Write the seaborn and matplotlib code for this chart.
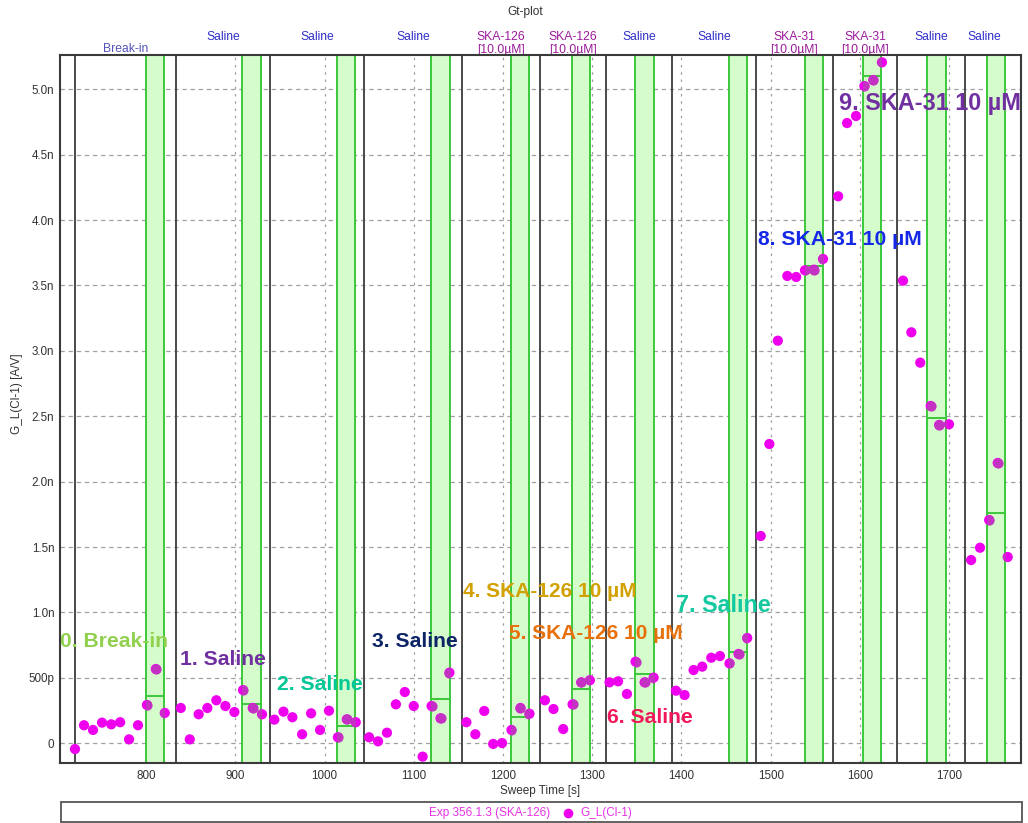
import matplotlib
matplotlib.use("Agg")
import matplotlib.pyplot as plt
import numpy as np
import pandas as pd
import seaborn as sns
from matplotlib.ticker import FuncFormatter, MultipleLocator
from matplotlib.lines import Line2D
from matplotlib.patches import Rectangle

# ---- sweep data: leak conductance per sweep (nS) ----
sweep_time = [
    720.4, 730.5, 740.6, 750.7, 761, 771, 781, 791, 801, 811, 821,
    839, 849, 859, 868.7, 878.8, 888.9, 899, 908.7, 919.6, 930,
    943.8, 954, 964, 974.9, 985, 995, 1005, 1015, 1025, 1035,
    1050, 1060, 1070, 1080, 1090, 1100, 1110, 1120, 1130, 1140,
    1159, 1169, 1179, 1189, 1199, 1209.5, 1219.6, 1229.7,
    1247, 1256.6, 1267.5, 1278, 1287.7, 1297.4,
    1319.4, 1329, 1338.9, 1348.6, 1358.7, 1368.8,
    1393.8, 1403.5, 1413.6, 1423.3, 1433.4, 1443.1, 1453.8, 1464, 1473.7,
    1488.8, 1498.5, 1508, 1518.6, 1528.6, 1538.4, 1548.5, 1558.6,
    1575.6, 1585.6, 1595.6, 1605, 1615, 1624.7,
    1648.3, 1657.6, 1667.6, 1679.3, 1688.8, 1699.8,
    1724.6, 1734.6, 1744.8, 1754.4, 1765.6,
]
conductance_nS = [
    -0.044, 0.138, 0.102, 0.158, 0.145, 0.161, 0.030, 0.138, 0.293, 0.568, 0.232,
    0.270, 0.030, 0.222, 0.270, 0.329, 0.285, 0.239, 0.407, 0.270, 0.222,
    0.181, 0.242, 0.199, 0.069, 0.229, 0.102, 0.249, 0.046, 0.183, 0.161,
    0.046, 0.015, 0.081, 0.298, 0.392, 0.285, -0.102, 0.285, 0.191, 0.540,
    0.161, 0.069, 0.247, -0.005, 0.002, 0.102, 0.270, 0.226,
    0.329, 0.262, 0.109, 0.298, 0.466, 0.482,
    0.466, 0.474, 0.377, 0.624, 0.466, 0.502,
    0.402, 0.369, 0.560, 0.586, 0.654, 0.667, 0.611, 0.683, 0.805,
    1.585, 2.288, 3.078, 3.573, 3.565, 3.616, 3.621, 3.703,
    4.182, 4.742, 4.796, 5.025, 5.071, 5.206,
    3.537, 3.142, 2.910, 2.579, 2.434, 2.439,
    1.401, 1.495, 1.707, 2.143, 1.424,
]

# ---- protocol segments ----
segment_starts = [720, 834, 939, 1044, 1154, 1242, 1315, 1389.5, 1483, 1569.5, 1642, 1718]
segment_ends = segment_starts[1:] + [1760]
segment_labels = [
    "Break-in", "Saline", "Saline", "Saline",
    "SKA-126\n[10.0µM]", "SKA-126\n[10.0µM]", "Saline", "Saline",
    "SKA-31\n[10.0µM]", "SKA-31\n[10.0µM]", "Saline", "Saline",
]

# ---- analysis windows (averaged sweeps) ----
band_starts = [800, 908, 1014.5, 1119.5, 1209, 1277, 1348, 1453, 1538, 1604, 1675.6, 1742]
band_ends = [820.5, 929, 1034.7, 1141, 1229, 1297, 1369, 1473, 1558.5, 1624, 1697, 1763]

# ---- condition notes ----
note_texts = [
    "0. Break-in", "1. Saline", "2. Saline", "3. Saline",
    "4. SKA-126 10 µM", "5. SKA-126 10 µM", "6. Saline", "7. Saline",
    "8. SKA-31 10 µM", "9. SKA-31 10 µM",
]
note_x = [704, 838, 947, 1053.4, 1155.7, 1207.3, 1316.5, 1393.4, 1486, 1576]
note_y = [0.782, 0.637, 0.453, 0.777, 1.159, 0.841, 0.199, 1.052, 3.853, 4.893]
note_colors = ["#92D050", "#7030A0", "#00C896", "#0C2566", "#D2A000",
               "#E8700A", "#F0185A", "#14C8A0", "#1428E6", "#7030A0"]
note_sizes = [15.2, 15.2, 15.2, 15.2, 15.0, 15.0, 15.2, 16.8, 15.2, 16.9]

# ---- styling ----
sns.set_theme(style="white")
plt.rcParams["font.family"] = ["Liberation Sans", "DejaVu Sans"]

W, H = 1028, 823
fig = plt.figure(figsize=(W / 100, H / 100), dpi=100)
ax_l, ax_r, ax_t, ax_b = 60, 1021, 54.5, 763.3
ax = fig.add_axes([ax_l / W, 1 - ax_b / H, (ax_r - ax_l) / W, (ax_b - ax_t) / H])

df = pd.DataFrame({"Sweep Time [s]": sweep_time, "G_L(Cl-1) [A/V]": conductance_nS})

point_color = "#EE00EE"
point_dark = "#C432C4"
band_fill = "#D5FCCB"
band_edge = "#3CC83C"
marker_area = 54

ax.set_xlim(703.6, 1780.5)
ax.set_ylim(-0.153, 5.266)

# grid beneath everything
ax.set_axisbelow(True)
ax.yaxis.grid(True, color="#a0a0a0", linestyle=(0, (3.5, 3.0)), lw=0.9)
ax.xaxis.grid(True, color="#a0a0a0", linestyle=(0, (2.0, 3.8)), lw=0.9)

# segment boundaries
for s in segment_starts:
    ax.axvline(s, color="#4a4a4a", lw=1.4, zorder=2)

# averaging windows
t_arr = np.asarray(sweep_time)
g_arr = np.asarray(conductance_nS)
band_rects = []
for b0, b1 in zip(band_starts, band_ends):
    rect = ax.axvspan(b0, b1, facecolor=band_fill, edgecolor="none", zorder=1)
    band_rects.append(rect)
    ax.axvline(b0, color=band_edge, lw=1.4, zorder=1.5)
    ax.axvline(b1, color=band_edge, lw=1.4, zorder=1.5)
    sel = (t_arr >= b0 - 3) & (t_arr <= b1 + 3)
    ax.plot([b0, b1], [g_arr[sel].mean()] * 2, color=band_edge, lw=1.4, zorder=2.5)

# sweeps
sns.scatterplot(data=df, x="Sweep Time [s]", y="G_L(Cl-1) [A/V]", ax=ax,
                color=point_color, s=marker_area, linewidth=0, edgecolor="none",
                legend=False, zorder=3)
for rect in band_rects:
    sc = ax.scatter(t_arr, g_arr, color=point_dark, s=marker_area, linewidths=0, zorder=3.5)
    sc.set_clip_path(rect)

# axis formatting
def si_fmt(v, _):
    if abs(v) < 1e-9:
        return "0"
    if abs(v - 0.5) < 1e-9:
        return "500p"
    return f"{v:.1f}n"

ax.xaxis.set_major_locator(MultipleLocator(100))
ax.yaxis.set_major_locator(MultipleLocator(0.5))
ax.yaxis.set_major_formatter(FuncFormatter(si_fmt))
ax.tick_params(axis="x", length=0, pad=5, labelsize=8.4, labelcolor="#333333")
ax.tick_params(axis="y", length=3, width=0.8, color="#888888", pad=1,
               labelsize=8.4, labelcolor="#333333")
ax.set_xlim(703.6, 1780.5)
ax.set_ylim(-0.153, 5.266)

ax.set_xlabel("Sweep Time [s]", fontsize=8.5, color="#333333")
ax.set_ylabel("G_L(Cl-1) [A/V]", fontsize=8.5, color="#333333")
ax.xaxis.set_label_coords(0.5, -0.031)
ax.yaxis.set_label_coords(-0.0385, 0.521)

for sp in ax.spines.values():
    sp.set_color("#3a3a3a")
    sp.set_linewidth(1.5)
    sp.set_zorder(6)

# segment labels above the plot
ax_h = ax_b - ax_t
for s0, s1, lab in zip(segment_starts, segment_ends, segment_labels):
    xm = (s0 + s1) / 2
    if "SKA" in lab:
        color, ypx = "#9A1A9A", 43.5
    elif lab == "Break-in":
        color, ypx = "#5353BB", 48.5
    else:
        color, ypx = "#2E2ECA", 36.5
    ax.text(xm, 1 + (ax_t - ypx) / ax_h, lab, transform=ax.get_xaxis_transform(),
            ha="center", va="center", fontsize=8.7, color=color,
            linespacing=1.0, clip_on=False)

# condition notes
for txt, x, y, c, fs in zip(note_texts, note_x, note_y, note_colors, note_sizes):
    ax.text(x, y, txt, color=c, fontsize=fs, fontweight="bold",
            ha="left", va="center", zorder=5, clip_on=False)

# title
fig.text(525 / W, 1 - 12 / H, "Gt-plot", ha="center", va="center",
         fontsize=8.6, color="#333333")

# legend strip
fig.add_artist(Rectangle((60.7 / W, 1 - 821.7 / H), (1021.7 - 60.7) / W, 20 / H,
                         transform=fig.transFigure, facecolor="white",
                         edgecolor="#555555", lw=1.3))
ly = 1 - 813.3 / H
fig.text(550.7 / W, ly, "Exp 356.1.3 (SKA-126)", ha="right", va="center",
         fontsize=8.5, color="#E632E6")
fig.add_artist(Line2D([568.3 / W], [ly], transform=fig.transFigure, marker="o",
                      markersize=7.0, color=point_color, markeredgewidth=0, linestyle="none"))
fig.text(580 / W, ly, "G_L(Cl-1)", ha="left", va="center",
         fontsize=8.5, color="#E632E6")

fig.savefig("out.png", dpi=100, facecolor="white")
